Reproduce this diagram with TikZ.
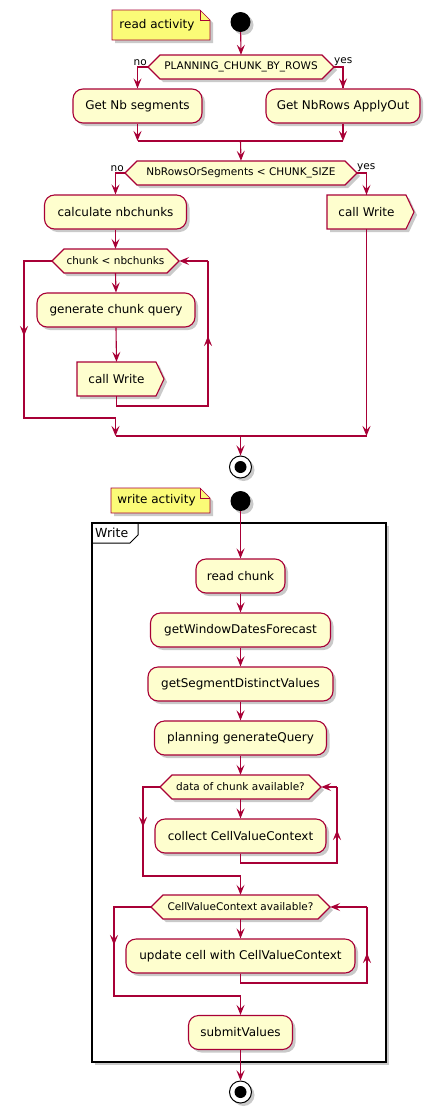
\documentclass[tikz,border=0pt]{standalone}
\usepackage{fontspec}
\setmainfont{DejaVu Sans}
\usetikzlibrary{arrows.meta,shadows}
\definecolor{actfill}{HTML}{FEFECE}
\definecolor{actline}{HTML}{A80036}
\definecolor{notefill}{HTML}{FBFB77}
\tikzset{
  shd/.style={drop shadow={shadow xshift=3pt,shadow yshift=-3pt,opacity=0.35,fill=black!60}},
  act/.style={draw=actline,fill=actfill,line width=1.1pt,rounded corners=10pt,minimum height=34pt,inner xsep=0pt,font=\fontsize{12}{14}\selectfont,shd},
  sendtext/.style={draw=none,fill=none,minimum height=34pt,inner xsep=0pt,font=\fontsize{12}{14}\selectfont},
  dtext/.style={draw=none,minimum height=24pt,inner sep=0pt,font=\fontsize{10.5}{12}\selectfont},
  hexst/.style={draw=actline,fill=actfill,line width=1.1pt,shd},
  lbl/.style={font=\fontsize{10.5}{12}\selectfont,inner sep=0pt},
  flow/.style={draw=actline,line width=1.1pt},
  arr/.style={flow,-{Stealth[length=10pt,width=8pt,inset=4pt]}},
  notest/.style={draw=actline,fill=notefill,line width=0.6pt,shd},
}
% hexagon: name, cx, cy, width, text
\newcommand\hexbox[5]{%
  \path[hexst] ({#2-#4/2},#3) -- ++(12,-12) -- ++({#4-24},0) -- ++(12,12) -- ++(-12,12) -- ++({24-#4},0) -- cycle;
  \node[dtext,minimum width=#4pt] (#1) at (#2,#3) {#5};}
% send signal box: name, left, top, rect width, text
\newcommand\sendbox[5]{%
  \path[hexst] (#2,#3) -- ++(#4,0) -- ++(8,17) -- ++(-8,17) -- ++(-#4,0) -- cycle;
  \node[sendtext,minimum width=#4pt] (#1) at ({#2+#4/2},{#3+17}) {#5};}
% note: name, left, top, width, height, text
\newcommand\notebox[6]{%
  \path[notest] (#2,#3) -- ++({#4-10},0) -- ++(10,10) -- ++(0,{#5-10}) -- ++(-#4,0) -- cycle;
  \draw[actline,line width=0.6pt] ({#2+#4-10},#3) -- ++(0,10) -- ++(10,0);
  \node[font=\fontsize{12}{14}\selectfont,inner sep=0pt] (#1) at ({#2+#4/2-4},{#3+#5/2}) {#6};}
\begin{document}
\begin{tikzpicture}[x=1pt,y=-1pt]
\useasboundingbox (0,0) rectangle (436,1119);

% ===== read activity =====
\notebox{n1}{112}{10}{98}{30}{read activity}
\node[circle,fill=black,minimum size=20pt,inner sep=0pt,shd] (s1) at (240.5,22) {};

\hexbox{d1}{241}{67}{186}{PLANNING\_CHUNK\_BY\_ROWS}
\node[lbl,anchor=south east] (no1) at (147,66) {no};
\node[lbl,anchor=south west] (yes1) at (334,66) {yes};

\node[act,minimum width=129pt] (a1) at (137.5,106) {Get Nb segments};
\node[act,minimum width=154pt] (a2) at (343,106) {Get NbRows ApplyOut};

\hexbox{d2}{241}{173}{232}{NbRowsOrSegments < CHUNK\_SIZE}
\node[lbl,anchor=south east] (no2) at (124,172) {no};
\node[lbl,anchor=south west] (yes2) at (357,172) {yes};

\node[act,minimum width=142pt] (a3) at (115.5,212) {calculate nbchunks};
\sendbox{w1}{327}{195}{79}{call Write}

\hexbox{d3}{115.5}{261}{127}{chunk < nbchunks}
\node[act,minimum width=158pt] (a4) at (116,310) {generate chunk query};
\sendbox{w2}{77}{362}{79}{call Write}

\node[circle,draw=black,fill=white,line width=1pt,minimum size=22pt,inner sep=0pt,shd] (e1) at (240.5,467) {};
\fill[black] (e1.center) circle (6pt);

\coordinate (m1) at (240.5,141);
\coordinate (m2) at (240.5,436);

% connectors (read)
\draw[arr] (s1) -- (d1.north);
\draw[flow] (d1.west) -| (a1.north) coordinate[pos=0.5] (c1);
\draw[arr] (c1) -- (a1.north);
\draw[flow] (d1.east) -| (a2.north) coordinate[pos=0.5] (c2);
\draw[arr] (c2) -- (a2.north);
\draw[arr] (a1.south) -- (a1.south|-m1);
\draw[arr] (a2.south) -- (a2.south|-m1);
\draw[flow] (a1.south|-m1) -- (a2.south|-m1);
\draw[arr] (m1) -- (d2.north);
\draw[flow] (d2.west) -| (a3.north) coordinate[pos=0.5] (c3);
\draw[arr] (c3) -- (a3.north);
\draw[flow] (d2.east) -| (w1.north) coordinate[pos=0.5] (c4);
\draw[arr] (c4) -- (w1.north);
\draw[arr] (a3.south) -- (d3.north);
\draw[arr] (d3.south) -- (a4.north);
\draw[arr] (a4.south) -- (w2.north);
% loop back
\coordinate (lb1) at (208,406);
\coordinate (lb2) at (208,261);
\draw[flow] (w2.south) |- (lb1) -- (lb2);
\draw[arr] (lb1) -- (208,336);
\draw[arr] (lb2) -- (d3.east);
% loop exit
\coordinate (lx1) at (24,261);
\coordinate (lx2) at (24,418);
\coordinate (lx3) at (115.5,418);
\draw[flow] (d3.west) -- (lx1) -- (lx2) -- (lx3);
\draw[arr] (lx1) -- (24,336);
\draw[arr] (lx3) -- (lx3|-m2);
\draw[arr] (w1.south) -- (w1.south|-m2);
\draw[flow] (lx3|-m2) -- (w1.south|-m2);
\draw[arr] (m2) -- (e1.north);

% ===== write activity =====
\notebox{n2}{111}{488}{99}{25}{write activity}
\node[circle,fill=black,minimum size=20pt,inner sep=0pt,shd] (s2) at (240.5,501) {};

\path[draw=black,fill=white,line width=1.5pt,shd] (92,523) rectangle (386,1062);
\draw[black,line width=1pt] (92,543) -- (130,543) -- (138,535) -- (138,523);
\node[font=\fontsize{12.5}{14}\selectfont,inner sep=0pt,anchor=west] (fw) at (95,533) {Write};

\node[act,minimum width=89pt] (b1) at (240.5,576) {read chunk};
\node[act,minimum width=180pt] (b2) at (240.5,630) {getWindowDatesForecast};
\node[act,minimum width=185pt] (b3) at (240.5,684) {getSegmentDistinctValues};
\node[act,minimum width=172pt] (b4) at (240.5,738) {planning generateQuery};
\hexbox{d4}{240.5}{787}{161}{data of chunk available?}
\node[act,minimum width=171pt] (b5) at (240.5,836) {collect CellValueContext};
\hexbox{d5}{240.5}{907}{179}{CellValueContext available?}
\node[act,minimum width=229pt] (b6) at (240.5,956) {update cell with CellValueContext};
\node[act,minimum width=104pt] (b7) at (240.5,1032.5) {submitValues};
\node[circle,draw=black,fill=white,line width=1pt,minimum size=22pt,inner sep=0pt,shd] (e2) at (240.5,1092) {};
\fill[black] (e2.center) circle (6pt);

\draw[arr] (s2) -- (b1.north);
\draw[arr] (b1) -- (b2);
\draw[arr] (b2) -- (b3);
\draw[arr] (b3) -- (b4);
\draw[arr] (b4) -- (d4.north);
\draw[arr] (d4.south) -- (b5.north);
\coordinate (ld1) at (337,863);
\coordinate (ld2) at (337,787);
\draw[flow] (b5.south) |- (ld1) -- (ld2);
\draw[arr] (ld1) -- (337,830);
\draw[arr] (ld2) -- (d4.east);
\coordinate (le1) at (143,787);
\coordinate (le2) at (143,876);
\coordinate (le3) at (240.5,876);
\draw[flow] (d4.west) -- (le1) -- (le2) -- (le3);
\draw[arr] (le1) -- (143,827);
\draw[arr] (le3) -- (d5.north);
\draw[arr] (d5.south) -- (b6.north);
\coordinate (lf1) at (367,983);
\coordinate (lf2) at (367,907);
\draw[flow] (b6.south) |- (lf1) -- (lf2);
\draw[arr] (lf1) -- (367,953);
\draw[arr] (lf2) -- (d5.east);
\coordinate (lg1) at (114,907);
\coordinate (lg2) at (114,996);
\coordinate (lg3) at (240.5,996);
\draw[flow] (d5.west) -- (lg1) -- (lg2) -- (lg3);
\draw[arr] (lg1) -- (114,945);
\draw[arr] (lg3) -- (b7.north);
\draw[arr] (b7.south) -- (e2.north);
\end{tikzpicture}
\end{document}
